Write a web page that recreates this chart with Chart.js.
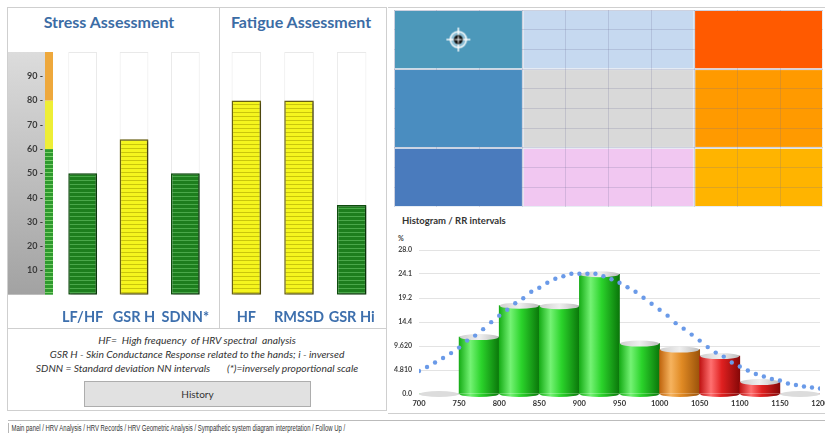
<!DOCTYPE html>
<html>
<head>
<meta charset="utf-8">
<script src="https://cdn.jsdelivr.net/npm/chart.js@4.4.0/dist/chart.umd.min.js"></script>
<style>
  html, body { margin: 0; padding: 0; background: #fff; }
  body { width: 825px; height: 440px; position: relative; overflow: hidden; font-family: Lato, "Open Sans", sans-serif; }
  .abs { position: absolute; }
  .line { position: absolute; background: #cfcfcf; }
  .title { position: absolute; top: 13px; font-weight: bold; font-size: 16px; color: #3b6ca5; text-align: center; line-height: 18px; }
  #notes { left: 7px; top: 333px; width: 380px; font-style: italic; font-size: 10.3px; color: #333; text-align: center; line-height: 14px; }
  #history { left: 84px; top: 381px; width: 227px; height: 26px; box-sizing: border-box; background: #e1e1e1; border: 1px solid #adadad; font-size: 10px; color: #333; text-align: center; line-height: 24px; }
  #histTitle { left: 402px; top: 215px; font-size: 9.5px; font-weight: bold; color: #333; }
  #pct { left: 398px; top: 234px; font-size: 7px; font-weight: bold; color: #444; }
  #tabs { left: 8px; top: 421px; height: 15px; font-family: "Liberation Sans", sans-serif; font-size: 8.5px; color: #333; line-height: 15px; white-space: pre; transform: scaleX(0.7); transform-origin: 0 0; }
  #tabs span.active { background: #fff; border-left: 1px solid #999; padding-left: 4px; }
</style>
</head>
<body>
  <div class="abs" style="left:7px;top:7px;width:380px;height:404px;border:1px solid #cfcfcf;box-sizing:border-box"></div>
  <div class="line" style="left:219px;top:7px;width:1px;height:321px"></div>
  <div class="line" style="left:7px;top:328px;width:380px;height:1px"></div>
  <div class="line" style="left:388px;top:7px;width:437px;height:1px"></div>
  <div class="line" style="left:388px;top:413px;width:437px;height:1px"></div>
  <div class="line" style="left:8px;top:420px;width:817px;height:1px;background:#bbb"></div>

  <div class="title" style="left:0;width:218px">Stress Assessment</div>
  <div class="title" style="left:219px;width:164px">Fatigue Assessment</div>

  <div id="notes" class="abs">
    <div>HF=&nbsp; High frequency&nbsp; of HRV spectral&nbsp; analysis</div>
    <div>GSR H - Skin Conductance Response related to the hands; i - inversed</div>
    <div>SDNN = Standard deviation NN intervals&nbsp;&nbsp;&nbsp;&nbsp;&nbsp;&nbsp; (*)=inversely proportional scale</div>
  </div>
  <div id="history" class="abs">History</div>

  <canvas id="stressChart" class="abs" style="left:7px;top:40px" width="212" height="305"></canvas>
  <canvas id="fatigueChart" class="abs" style="left:219px;top:40px" width="167" height="305"></canvas>

  <canvas id="matrixChart" class="abs" style="left:394px;top:10px" width="429" height="197"></canvas>

  <div id="histTitle" class="abs">Histogram / RR intervals</div>
  <div id="pct" class="abs">%</div>
  <canvas id="histChart" class="abs" style="left:390px;top:244px" width="445" height="176"></canvas>

  <div id="tabs" class="abs"><span class="active">Main panel </span>/ HRV Analysis / HRV Records / HRV Geometric Analysis / Sympathetic system diagram interpretation / Follow Up /</div>

<script>
// --- gauges
const stressLabels = ['LF/HF', 'GSR H', 'SDNN*'];
const stressValues = [50, 64, 50];
const fatigueLabels = ['HF', 'RMSSD', 'GSR Hi'];
const fatigueValues = [80, 80, 37];
const gaugeTicks = [10, 20, 30, 40, 50, 60, 70, 80, 90];
const zoneLimits = [60, 80, 100];   // green up to 60, yellow up to 80, orange up to 100

// --- position matrix
const matrixEdges = [0, 3, 7, 10];
const targetPoint = [{ x: 1.5, y: 8.5 }];

// --- RR histogram
const rrBins = [700, 750, 800, 850, 900, 950, 1000, 1050, 1100, 1150];
const binWidth = 50;
const rrPercent = [0, 11.4, 17.7, 17.6, 24.0, 10.1, 8.9, 7.6, 2.4, 0];
const curveX = [700, 710, 720, 730, 740, 750, 760, 770, 780, 790, 800, 810, 820, 830, 840, 850, 860, 870, 880, 890,
  900, 910, 920, 930, 940, 950, 960, 970, 980, 990, 1000, 1010, 1020, 1030, 1040, 1050, 1060, 1070, 1080, 1090,
  1100, 1110, 1120, 1130, 1140, 1150, 1160, 1170, 1180, 1190, 1200];
const curveY = [4.6, 5.4, 6.3, 7.2, 8.2, 9.3, 10.7, 11.7, 13.0, 14.4, 15.7, 16.9, 18.2, 19.2, 20.5, 21.3, 22.3, 23.1, 23.6, 24.1,
  24.1, 24.1, 24.1, 23.6, 23.0, 22.3, 21.4, 20.5, 19.3, 18.1, 16.9, 15.7, 14.2, 13.1, 11.9, 10.7, 9.4, 8.3, 7.5, 6.3,
  5.5, 4.7, 4.0, 3.5, 3.0, 2.7, 2.1, 1.8, 1.5, 1.3, 1.1];
const histXTicks = [700, 750, 800, 850, 900, 950, 1000, 1050, 1100, 1150, 1200];
const histYTicks = [0, 4.81, 9.62, 14.43, 19.24, 24.05, 28.86];
const histYLabels = ['0.0', '4.810', '9.620', '14.4', '19.2', '24.1', '28.0'];

// styles
const barTones = ['green', 'green', 'green', 'green', 'green', 'green', 'orange', 'red', 'red', 'red'];
const toneStops = {
  green: ['#17ad17', '#74f274', '#2bd42b', '#0a760a'],
  orange: ['#c0650e', '#f6b35e', '#e08a24', '#9a520a'],
  red: ['#c01414', '#ff7070', '#e02020', '#860808']
};
const matrixTones = [
  ['#4a7bbd', '#f1c7f1', '#ffb400'],
  ['#4a8dc0', '#d9d9d9', '#ff9a00'],
  ['#4c98ba', '#c6d9f0', '#ff5a00']
];

// scale paddings from tick labels would shift the plot area, so drop them
function noPad(s) {
  s.paddingTop = 0; s.paddingBottom = 0; s.paddingLeft = 0; s.paddingRight = 0;
}

function stripes(base, line) {
  const c = document.createElement('canvas');
  c.width = 4; c.height = 4;
  const g = c.getContext('2d');
  g.fillStyle = base; g.fillRect(0, 0, 4, 4);
  g.fillStyle = line; g.fillRect(0, 0, 4, 1);
  return g.createPattern(c, 'repeat');
}

const greenFill = stripes('#1d7e1d', '#4aa84a');
const yellowFill = stripes('#f5f51e', '#c9c50c');

// gray block + coloured zone band left of the stress bars
const zoneBand = {
  id: 'zoneBand',
  beforeDraw(chart) {
    if (!chart.options.plugins.zoneBand.show) return;
    const { ctx, scales: { y } } = chart;
    const top = y.getPixelForValue(100), bottom = y.getPixelForValue(0);
    ctx.save();
    const g = ctx.createLinearGradient(0, top, 0, bottom);
    g.addColorStop(0, '#dcdcdc');
    g.addColorStop(1, '#a2a2a2');
    ctx.fillStyle = g;
    ctx.fillRect(1, top, 37, bottom - top);
    const y60 = y.getPixelForValue(zoneLimits[0]), y80 = y.getPixelForValue(zoneLimits[1]), y100 = y.getPixelForValue(zoneLimits[2]);
    ctx.fillStyle = stripes('#2f9a2f', '#7bcf6b');
    ctx.fillRect(38, y60, 8, bottom - y60);
    ctx.fillStyle = '#eeee36';
    ctx.fillRect(38, y80, 8, y60 - y80);
    ctx.fillStyle = '#eea83c';
    ctx.fillRect(38, y100, 8, y80 - y100);
    ctx.restore();
  },
  beforeDatasetDraw(chart, args) {
    if (args.index !== 0) return;
    const ctx = chart.ctx;
    ctx.save();
    ctx.shadowColor = 'rgba(0,0,0,0.35)';
    ctx.shadowOffsetX = 2;
    ctx.shadowOffsetY = 1;
    ctx.shadowBlur = 2;
  },
  afterDatasetDraw(chart, args) {
    if (args.index === 0) chart.ctx.restore();
  }
};

function gaugeChart(id, labels, values, showAxis) {
  const ctx = document.getElementById(id).getContext('2d');
  return new Chart(ctx, {
    type: 'bar',
    data: {
      labels: labels,
      datasets: [
        {
          data: values,
          backgroundColor: values.map(v => v < zoneLimits[0] ? greenFill : yellowFill),
          borderColor: values.map(v => v < zoneLimits[0] ? '#0d4d0d' : '#6a6212'),
          borderWidth: 1.5,
          borderSkipped: false,
          grouped: false,
          order: 0,
          barPercentage: 0.56,
          categoryPercentage: 1
        },
        {
          data: labels.map(() => 100),
          backgroundColor: '#fff',
          borderColor: '#e9e9e9',
          borderWidth: 1,
          borderSkipped: false,
          grouped: false,
          order: 1,
          barPercentage: 0.56,
          categoryPercentage: 1
        }
      ]
    },
    options: {
      responsive: false,
      animation: false,
      layout: { autoPadding: false, padding: { top: 12, bottom: 4.3, left: showAxis ? 0 : 1, right: 8 } },
      plugins: {
        legend: { display: false },
        tooltip: { enabled: false },
        zoneBand: { show: showAxis }
      },
      scales: {
        x: {
          grid: { display: false, drawTicks: false },
          border: { display: false },
          afterFit: noPad,
          ticks: { color: '#3d6fad', padding: 14.3, autoSkip: false, maxRotation: 0, minRotation: 0, font: { family: 'Lato', size: 14.5, weight: 'bold' } }
        },
        y: {
          min: 0,
          max: 100,
          display: showAxis,
          grid: { display: false, drawTicks: false },
          border: { display: false },
          afterBuildTicks: s => { s.ticks = gaugeTicks.map(v => ({ value: v })); },
          afterFit: s => { s.width = showAxis ? 50 : 0; noPad(s); },
          ticks: { padding: 14, color: '#3a3a3a', font: { family: 'Lato', size: 9, weight: 'bold' }, callback: v => v + ' -' }
        }
      }
    },
    plugins: [zoneBand]
  });
}

gaugeChart('stressChart', stressLabels, stressValues, true);
gaugeChart('fatigueChart', fatigueLabels, fatigueValues, false);

// --- matrix
function crosshair() {
  const c = document.createElement('canvas');
  c.width = 26; c.height = 26;
  const g = c.getContext('2d');
  g.fillStyle = 'rgba(220,235,245,0.45)';
  g.beginPath(); g.arc(13, 13, 8, 0, Math.PI * 2); g.fill();
  g.strokeStyle = 'rgba(255,255,255,0.95)';
  g.lineWidth = 1.5;
  g.beginPath(); g.arc(13, 13, 8, 0, Math.PI * 2); g.stroke();
  g.beginPath(); g.moveTo(13, 1); g.lineTo(13, 25); g.moveTo(1, 13); g.lineTo(25, 13); g.stroke();
  g.fillStyle = '#111';
  g.beginPath(); g.arc(13, 13, 4.5, 0, Math.PI * 2); g.fill();
  g.strokeStyle = '#fff';
  g.lineWidth = 1;
  g.beginPath(); g.moveTo(13, 9.5); g.lineTo(13, 16.5); g.moveTo(9.5, 13); g.lineTo(16.5, 13); g.stroke();
  return c;
}

function paintCells(chart, onlyPlain) {
  const { ctx, scales: { x, y } } = chart;
  ctx.save();
  for (let r = 0; r < 3; r++) {
    for (let c = 0; c < 3; c++) {
      const plain = c === 0 || (c === 2 && r === 2);
      if (onlyPlain && !plain) continue;
      const x0 = x.getPixelForValue(matrixEdges[c]), x1 = x.getPixelForValue(matrixEdges[c + 1]);
      const y0 = y.getPixelForValue(matrixEdges[r + 1]), y1 = y.getPixelForValue(matrixEdges[r]);
      ctx.fillStyle = matrixTones[r][c];
      ctx.fillRect(x0 + 1, y0 + 1, x1 - x0 - 2, y1 - y0 - 2);
    }
  }
  ctx.restore();
}

const matrixCells = {
  id: 'matrixCells',
  beforeDraw(chart) {
    const ctx = chart.ctx;
    ctx.save();
    ctx.fillStyle = '#e8eef4';
    ctx.fillRect(0, 0, chart.width, chart.height);
    ctx.restore();
    paintCells(chart, false);
  },
  beforeDatasetsDraw(chart) { paintCells(chart, true); }
};

new Chart(document.getElementById('matrixChart').getContext('2d'), {
  type: 'scatter',
  data: {
    datasets: [{
      data: targetPoint,
      pointStyle: crosshair(),
      pointRadius: 13
    }]
  },
  options: {
    responsive: false,
    animation: false,
    layout: { autoPadding: false, padding: 0 },
    plugins: { legend: { display: false }, tooltip: { enabled: false } },
    scales: {
      x: {
        min: 0, max: 10,
        ticks: { display: false, stepSize: 1 },
        grid: { color: 'rgba(110,110,150,0.22)', drawTicks: false },
        border: { display: false }
      },
      y: {
        min: 0, max: 10,
        ticks: { display: false, stepSize: 1 },
        grid: { color: 'rgba(110,110,150,0.22)', drawTicks: false },
        border: { display: false }
      }
    }
  },
  plugins: [matrixCells]
});

// --- histogram
function cylinderFill(context) {
  const chart = context.chart;
  const i = context.dataIndex;
  if (!chart.chartArea || i === undefined) return '#2c2';
  const x = chart.scales.x;
  const left = x.getPixelForValue(rrBins[i]);
  const right = x.getPixelForValue(rrBins[i] + binWidth);
  const s = toneStops[barTones[i]];
  const g = chart.ctx.createLinearGradient(left, 0, right, 0);
  g.addColorStop(0, s[0]);
  g.addColorStop(0.28, s[1]);
  g.addColorStop(0.55, s[2]);
  g.addColorStop(1, s[3]);
  return g;
}

const cylinderCaps = {
  id: 'cylinderCaps',
  afterDatasetDraw(chart, args) {
    if (args.index !== 1) return;
    const ctx = chart.ctx;
    const base = chart.scales.y.getPixelForValue(0);
    ctx.save();
    args.meta.data.forEach((bar, i) => {
      const rx = bar.width / 2 - 0.5;
      if (rrPercent[i] > 0) {
        ctx.fillStyle = cylinderFill({ chart: chart, dataIndex: i });
        ctx.beginPath();
        ctx.ellipse(bar.x, base, rx, 3, 0, 0, Math.PI);
        ctx.fill();
        const g = ctx.createLinearGradient(bar.x - rx, 0, bar.x + rx, 0);
        g.addColorStop(0, '#cfcfcf');
        g.addColorStop(0.5, '#efefef');
        g.addColorStop(1, '#bdbdbd');
        ctx.fillStyle = g;
      } else {
        ctx.fillStyle = '#dcdcdc';
      }
      ctx.beginPath();
      ctx.ellipse(bar.x, bar.y, rx, 3, 0, 0, Math.PI * 2);
      ctx.fill();
    });
    ctx.restore();
  }
};

new Chart(document.getElementById('histChart').getContext('2d'), {
  type: 'bar',
  data: {
    datasets: [
      {
        type: 'line',
        data: curveX.map((x, i) => ({ x: x, y: curveY[i] })),
        showLine: false,
        pointRadius: 2.2,
        pointBackgroundColor: '#6a9ae8',
        pointBorderWidth: 0,
        order: 0
      },
      {
        type: 'bar',
        data: rrBins.map((b, i) => ({ x: b + binWidth / 2, y: rrPercent[i] })),
        backgroundColor: cylinderFill,
        borderWidth: 0,
        barPercentage: 1,
        categoryPercentage: 1,
        order: 1
      }
    ]
  },
  options: {
    responsive: false,
    animation: false,
    layout: { autoPadding: false, padding: { top: 6, right: 15, bottom: 7, left: 0 } },
    plugins: { legend: { display: false }, tooltip: { enabled: false } },
    scales: {
      x: {
        type: 'linear',
        min: 700,
        max: 1200,
        offset: false,
        grid: { display: false, drawTicks: false },
        border: { display: false },
        afterBuildTicks: s => { s.ticks = histXTicks.map(v => ({ value: v })); },
        afterFit: noPad,
        ticks: { padding: 5, color: '#333', font: { family: 'Lato', size: 7.5, weight: 'bold' }, maxRotation: 0, callback: v => String(v) }
      },
      y: {
        min: 0,
        max: histYTicks[histYTicks.length - 1],
        grid: { color: '#e3e3e3', drawTicks: false },
        border: { display: false },
        afterBuildTicks: s => { s.ticks = histYTicks.map(v => ({ value: v })); },
        afterFit: s => { s.width = 29; noPad(s); },
        ticks: { padding: 7, color: '#444', font: { family: 'Lato', size: 7, weight: 'bold' }, callback: (v, i) => histYLabels[i] }
      }
    }
  },
  plugins: [cylinderCaps]
});
</script>
</body>
</html>
